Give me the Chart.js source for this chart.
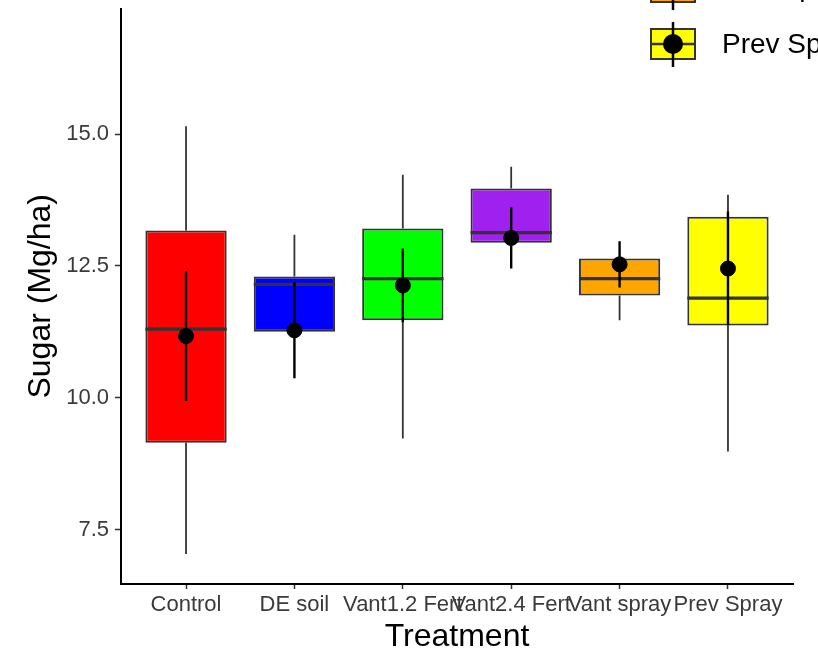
<!DOCTYPE html>
<html>
<head>
<meta charset="utf-8">
<script src="https://cdn.jsdelivr.net/npm/chart.js@4"></script>
<style>
  html, body { margin: 0; padding: 0; background: #fff; overflow: hidden; }
  #wrap { width: 818px; height: 655px; }
</style>
</head>
<body>
<div id="wrap"><canvas id="grafico"></canvas></div>
<script>
// tratamentos e estatisticas de cada caixa
const tratamentos = ["Control", "DE soil", "Vant1.2 Fert", "Vant2.4 Fert", "Vant spray", "Prev Spray"];
const cores = ["#FF0000", "#0000FF", "#00FF00", "#A020F0", "#FFA500", "#FFFF00"];
const minimo = [7.04, 11.25, 9.23, 12.94, 11.47, 8.98];
const quartil1 = [9.15, 11.25, 11.47, 12.94, 11.94, 11.37];
const mediana = [11.30, 12.15, 12.26, 13.13, 12.26, 11.89];
const quartil3 = [13.17, 12.30, 13.21, 13.97, 12.64, 13.43];
const maximo = [15.15, 13.09, 14.23, 14.38, 12.64, 13.85];
const media = [11.17, 11.28, 12.13, 13.03, 12.53, 12.45];
const erroMedia = [1.23, 0.91, 0.70, 0.58, 0.44, 1.08];
const ticksY = [7.5, 10.0, 12.5, 15.0];

const larguraCaixa = 0.75;
const cinza = "#333333";
const fonte = "'Liberation Sans', Arial, sans-serif";

// segmentos verticais / horizontais separados por null
function segmentos(lista) {
    const pts = [];
    for (const [x1, y1, x2, y2] of lista) {
        pts.push({ x: x1, y: y1 }, { x: x2, y: y2 }, { x: x1, y: null });
    }
    return pts;
}

const bigodes = segmentos(tratamentos.flatMap((t, i) => [
    [i + 1, minimo[i], i + 1, quartil1[i]],
    [i + 1, quartil3[i], i + 1, maximo[i]],
]));
const medianas = segmentos(tratamentos.map((t, i) =>
    [i + 1 - larguraCaixa / 2, mediana[i], i + 1 + larguraCaixa / 2, mediana[i]]));
const barrasErro = segmentos(tratamentos.map((t, i) =>
    [i + 1, media[i] - erroMedia[i], i + 1, media[i] + erroMedia[i]]));

// legenda desenhada a direita (parte fica fora da janela)
const legendaPlugin = {
    id: "legendaCaixas",
    afterDraw(chart) {
        const ctx = chart.ctx;
        const n = tratamentos.length;
        ctx.save();
        for (let i = 0; i < n; i++) {
            const cy = 44 - 57 * (n - 1 - i);
            const x0 = 651, w = 44, h = 30;
            ctx.fillStyle = cores[i];
            ctx.strokeStyle = cinza;
            ctx.lineWidth = 2;
            ctx.fillRect(x0, cy - h / 2, w, h);
            ctx.strokeRect(x0, cy - h / 2, w, h);
            ctx.lineWidth = 2.5;
            ctx.beginPath();
            ctx.moveTo(x0, cy);
            ctx.lineTo(x0 + w, cy);
            ctx.stroke();
            ctx.strokeStyle = "#000";
            ctx.beginPath();
            ctx.moveTo(x0 + w / 2, cy - 22);
            ctx.lineTo(x0 + w / 2, cy + 23);
            ctx.stroke();
            ctx.fillStyle = "#000";
            ctx.beginPath();
            ctx.arc(x0 + w / 2, cy, 10, 0, Math.PI * 2);
            ctx.fill();
            ctx.font = "28px " + fonte;
            ctx.textBaseline = "middle";
            ctx.fillText(tratamentos[i], 722, cy + 1);
        }
        ctx.restore();
    }
};

const ctx = document.getElementById("grafico").getContext("2d");
new Chart(ctx, {
    type: "bar",
    data: {
        datasets: [
            {
                type: "line",
                data: bigodes,
                borderColor: cinza,
                borderWidth: 1.8,
                pointRadius: 0,
                spanGaps: false,
                order: 5,
            },
            {
                type: "bar",
                data: tratamentos.map((t, i) => ({ x: i + 1, y: [quartil1[i], quartil3[i]] })),
                backgroundColor: cores,
                borderColor: cinza,
                borderWidth: 2,
                borderSkipped: false,
                categoryPercentage: 1,
                barPercentage: larguraCaixa,
                order: 4,
            },
            {
                type: "line",
                data: medianas,
                borderColor: cinza,
                borderWidth: 3.2,
                pointRadius: 0,
                spanGaps: false,
                order: 3,
            },
            {
                type: "line",
                data: barrasErro,
                borderColor: "#000",
                borderWidth: 2.4,
                pointRadius: 0,
                spanGaps: false,
                order: 2,
            },
            {
                type: "scatter",
                data: tratamentos.map((t, i) => ({ x: i + 1, y: media[i] })),
                backgroundColor: "#000",
                borderColor: "#000",
                pointRadius: 7.5,
                order: 1,
            },
        ],
    },
    options: {
        responsive: true,
        maintainAspectRatio: false,
        animation: false,
        layout: { padding: { left: 0, right: 25, top: 6, bottom: 0 } },
        plugins: {
            legend: { display: false },
            tooltip: { enabled: false },
        },
        scales: {
            x: {
                type: "linear",
                offset: false,
                min: 0.4,
                max: 6.6,
                afterBuildTicks: (s) => { s.ticks = tratamentos.map((t, i) => ({ value: i + 1 })); },
                afterFit: (s) => { s.height = 71; s.paddingLeft = 0; s.paddingRight = 0; },
                ticks: {
                    autoSkip: false,
                    maxRotation: 0,
                    padding: 3,
                    color: "#3A3A3A",
                    font: { family: fonte, size: 22 },
                    callback: (v) => tratamentos[v - 1] || "",
                },
                grid: { offset: false, drawOnChartArea: false, tickLength: 5, color: cinza, tickWidth: 1.5 },
                border: { display: true, color: "#000", width: 2 },
                title: {
                    display: true,
                    text: "Treatment",
                    color: "#000",
                    font: { family: fonte, size: 32, lineHeight: 1.1 },
                    padding: { top: 0, bottom: 0 },
                },
            },
            y: {
                type: "linear",
                min: 6.47,
                max: 17.38,
                afterBuildTicks: (s) => { s.ticks = ticksY.map((v) => ({ value: v })); },
                afterFit: (s) => { s.width = 121; s.paddingTop = 0; s.paddingBottom = 0; },
                ticks: {
                    padding: 6,
                    color: "#3A3A3A",
                    font: { family: fonte, size: 22 },
                    callback: (v) => v.toFixed(1),
                },
                grid: { drawOnChartArea: false, tickLength: 6, color: cinza, tickWidth: 1.5 },
                border: { display: true, color: "#000", width: 2 },
                title: {
                    display: true,
                    text: "Sugar (Mg/ha)",
                    color: "#000",
                    font: { family: fonte, size: 32 },
                    padding: { top: 22, bottom: 0 },
                },
            },
        },
    },
    plugins: [legendaPlugin],
});
</script>
</body>
</html>
